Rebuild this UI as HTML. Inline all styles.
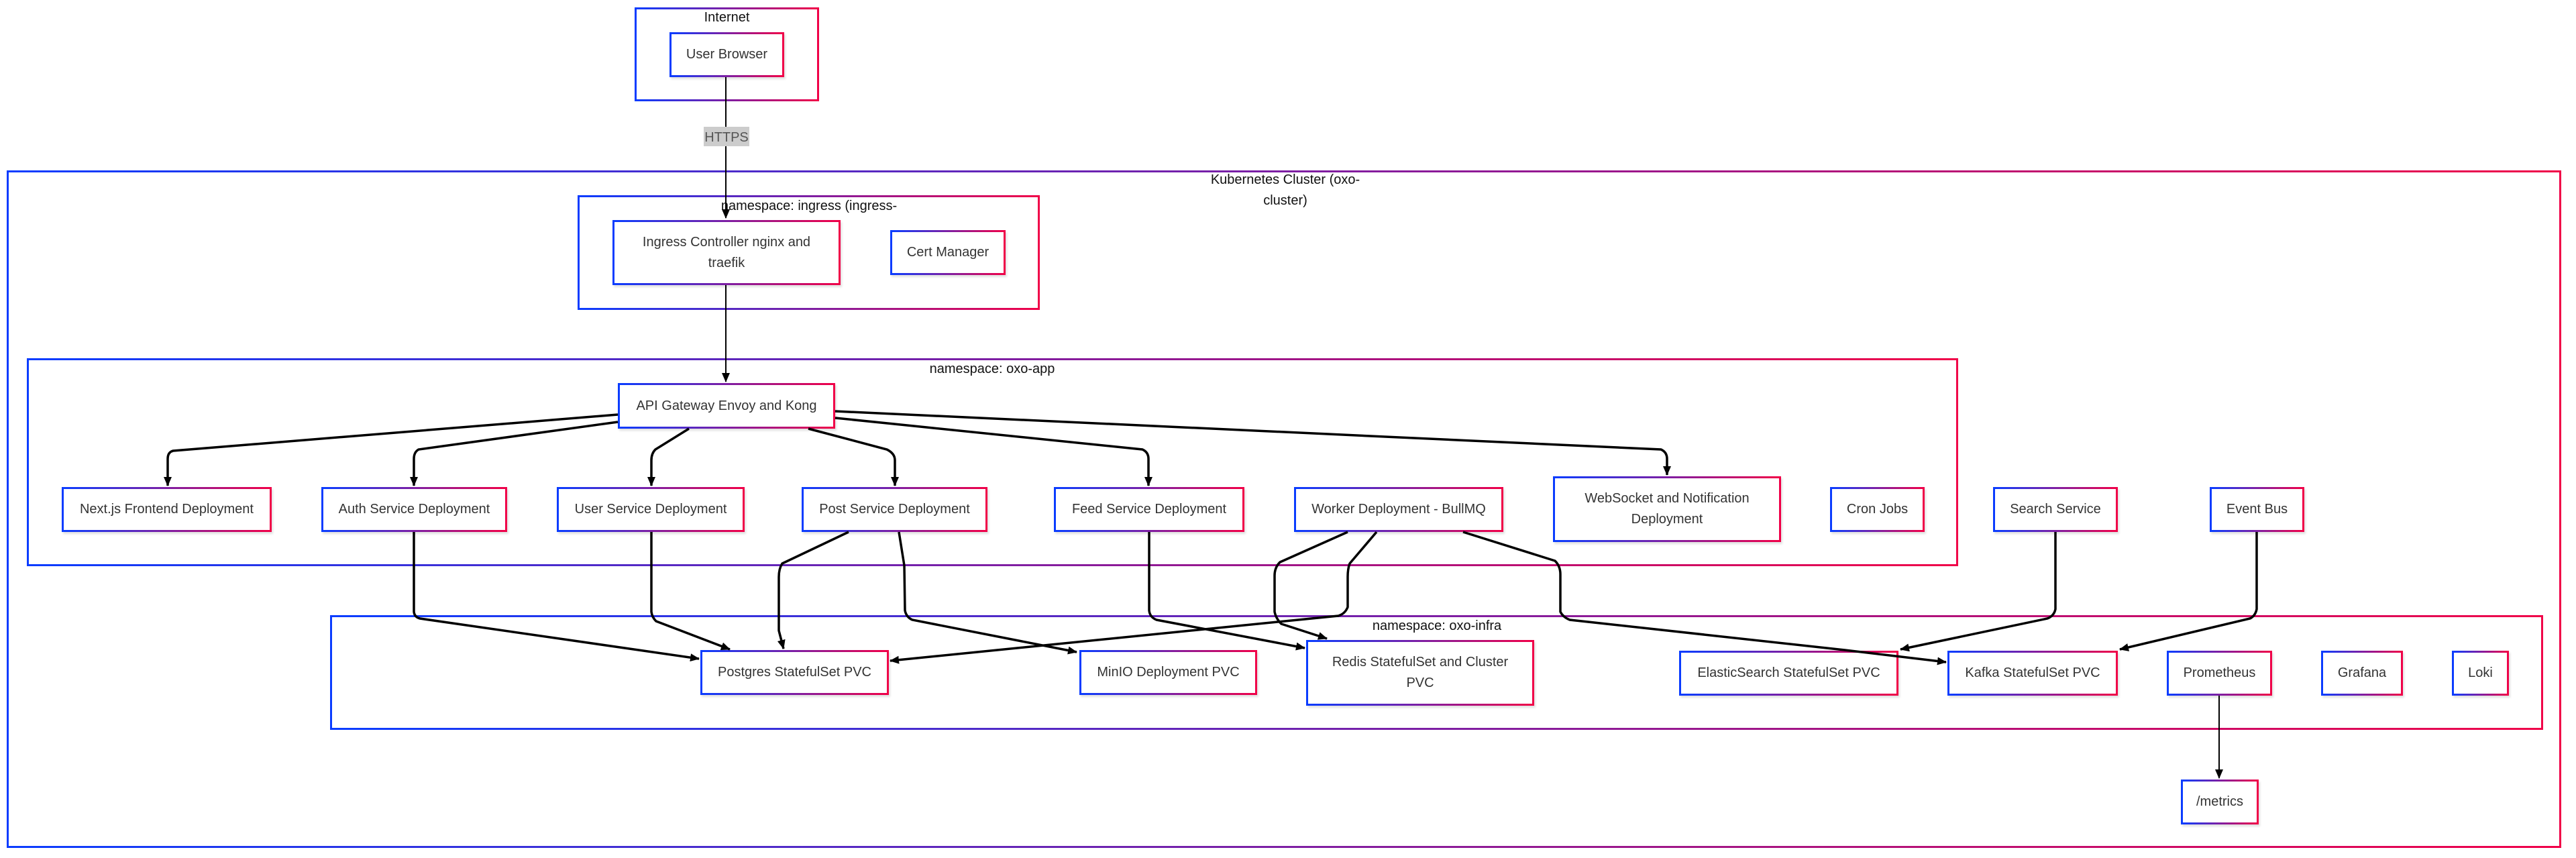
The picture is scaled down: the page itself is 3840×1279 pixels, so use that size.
<!DOCTYPE html>
<html><head><meta charset="utf-8"><style>
html,body{margin:0;padding:0;background:#fff;}
body{width:3840px;height:1279px;position:relative;overflow:hidden;font-family:"Liberation Sans",sans-serif;}
.b{position:absolute;box-sizing:border-box;border:3px solid;border-image:linear-gradient(to right,#0a3cff,#f00048) 1;}
.g{border-width:3px;}
.n{display:flex;align-items:center;justify-content:center;text-align:center;font-size:20px;color:#333;line-height:31px;background:#fff;box-shadow:2px 3px 3px rgba(0,0,0,0.12);}
.lbl{position:absolute;font-size:20px;color:#111;text-align:center;white-space:nowrap;line-height:31px;}
svg{position:absolute;left:0;top:0;}
</style></head><body>
<div class="b g" style="left:946px;top:11px;width:275px;height:140px;"></div>
<div class="lbl" style="left:946px;top:11px;width:275px;">Internet</div>
<div class="b g" style="left:10px;top:254px;width:3808px;height:1010px;"></div>
<div class="lbl" style="left:1716px;top:253px;width:400px;">Kubernetes Cluster (oxo-<br>cluster)</div>
<div class="b g" style="left:861px;top:291px;width:689px;height:171px;"></div>
<div class="lbl" style="left:1006px;top:292px;width:400px;">namespace: ingress (ingress-</div>
<div class="b g" style="left:40px;top:534px;width:2879px;height:310px;"></div>
<div class="lbl" style="left:1329px;top:535px;width:300px;">namespace: oxo-app</div>
<div class="b g" style="left:492px;top:917px;width:3299px;height:171px;"></div>
<div class="lbl" style="left:1992px;top:918px;width:300px;">namespace: oxo-infra</div>

<div class="b n" style="left:998px;top:48px;width:171px;height:67px;">User Browser</div>
<div class="b n" style="left:913px;top:328px;width:340px;height:97px;">Ingress Controller nginx and<br>traefik</div>
<div class="b n" style="left:1327px;top:343px;width:172px;height:67px;">Cert Manager</div>
<div class="b n" style="left:921px;top:571px;width:324px;height:68px;">API Gateway Envoy and Kong</div>
<div class="b n" style="left:92px;top:726px;width:313px;height:67px;">Next.js Frontend Deployment</div>
<div class="b n" style="left:479px;top:726px;width:277px;height:67px;">Auth Service Deployment</div>
<div class="b n" style="left:830px;top:726px;width:280px;height:67px;">User Service Deployment</div>
<div class="b n" style="left:1195px;top:726px;width:277px;height:67px;">Post Service Deployment</div>
<div class="b n" style="left:1571px;top:726px;width:284px;height:67px;">Feed Service Deployment</div>
<div class="b n" style="left:1929px;top:726px;width:312px;height:67px;">Worker Deployment - BullMQ</div>
<div class="b n" style="left:2315px;top:710px;width:340px;height:98px;">WebSocket and Notification<br>Deployment</div>
<div class="b n" style="left:2728px;top:726px;width:141px;height:67px;">Cron Jobs</div>
<div class="b n" style="left:2971px;top:726px;width:186px;height:67px;">Search Service</div>
<div class="b n" style="left:3294px;top:726px;width:141px;height:67px;">Event Bus</div>
<div class="b n" style="left:1044px;top:969px;width:281px;height:67px;">Postgres StatefulSet PVC</div>
<div class="b n" style="left:1609px;top:969px;width:265px;height:67px;">MinIO Deployment PVC</div>
<div class="b n" style="left:1947px;top:954px;width:340px;height:98px;">Redis StatefulSet and Cluster<br>PVC</div>
<div class="b n" style="left:2503px;top:970px;width:327px;height:67px;">ElasticSearch StatefulSet PVC</div>
<div class="b n" style="left:2903px;top:970px;width:254px;height:67px;">Kafka StatefulSet PVC</div>
<div class="b n" style="left:3230px;top:970px;width:157px;height:67px;">Prometheus</div>
<div class="b n" style="left:3460px;top:970px;width:122px;height:67px;">Grafana</div>
<div class="b n" style="left:3655px;top:970px;width:85px;height:67px;">Loki</div>
<div class="b n" style="left:3251px;top:1162px;width:116px;height:67px;">/metrics</div>

<svg width="3840" height="1279" viewBox="0 0 3840 1279">
<defs><marker id="a" markerUnits="userSpaceOnUse" markerWidth="14" markerHeight="12" refX="13" refY="6" orient="auto"><path d="M0,0 L14,6 L0,12 z" fill="#000"/></marker></defs>
<g fill="none" stroke="#000">
<path d="M1082 115 L1082 325" stroke-width="2" marker-end="url(#a)"/>
<path d="M1082 425 L1082 569" stroke-width="2" marker-end="url(#a)"/>
<g stroke-width="3.5" marker-end="url(#a)">
<path d="M921 618 L258 672 Q250 674 250 684 L250 724"/>
<path d="M921 629 L624 670 Q617 674 617 684 L617 724"/>
<path d="M1027 639 L977 670 Q971 676 971 686 L971 724"/>
<path d="M1205 639 L1322 670 Q1334 676 1334 686 L1334 724"/>
<path d="M1245 623 L1703 670 Q1712 674 1712 684 L1712 724"/>
<path d="M1245 613 L2476 670 Q2485 674 2485 684 L2485 708"/>
<path d="M617 793 L617 912 Q618 920 626 922 L1042 982"/>
<path d="M971 793 L971 912 Q972 920 978 926 L1088 968"/>
<path d="M1265 793 L1166 840 Q1161 848 1161 860 L1161 940 L1168 967"/>
<path d="M1340 793 L1348 843 L1349 910 Q1351 920 1360 924 L1605 972"/>
<path d="M1713 793 L1713 910 Q1714 920 1724 924 L1945 966"/>
<path d="M2052 793 L2012 840 Q2009 848 2009 860 L2009 905 Q2005 915 1995 918 L1327 985"/>
<path d="M2009 793 L1908 838 Q1900 846 1900 858 L1900 912 Q1902 922 1910 930 L1978 952"/>
<path d="M2181 793 L2318 836 Q2326 844 2326 856 L2326 912 Q2330 920 2340 924 L2750 969 L2901 987"/>
<path d="M3064 793 L3064 908 Q3062 918 3052 922 L2833 968"/>
<path d="M3364 793 L3364 908 Q3362 918 3354 922 L3160 968"/>
</g>
<path d="M3308 1037 L3308 1160" stroke-width="2" marker-end="url(#a)"/>
</g>
<rect x="1049" y="189" width="68" height="29" fill="#ccc"/>
<text x="1083" y="211" font-family="Liberation Sans, sans-serif" font-size="20" fill="#555" text-anchor="middle">HTTPS</text>
</svg>
</body></html>
